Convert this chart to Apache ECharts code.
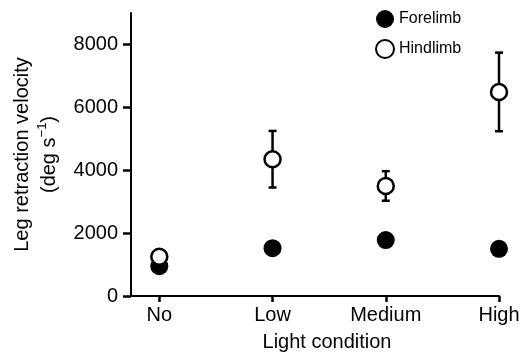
<!DOCTYPE html>
<html>
<head>
<meta charset="utf-8">
<script src="https://cdn.jsdelivr.net/npm/echarts@6/dist/echarts.min.js"></script>
<style>
  html, body { margin: 0; padding: 0; background: #fff; }
  #chart { width: 527px; height: 357px; }
</style>
</head>
<body>
<div id="chart"></div>
<script>
  // light conditions on x, velocities in deg/s
  const categories = ['No', 'Low', 'Medium', 'High'];
  const forelimb = [950, 1520, 1780, 1500];
  const forelimbErr = [80, 80, 80, 80];
  const hindlimb = [1250, 4350, 3500, 6490];
  const hindlimbErr = [100, 900, 470, 1250];
  const yTicks = [0, 2000, 4000, 6000, 8000];
  const xTicks = [0, 1, 2, 3];

  const font = 'Liberation Sans, Arial, Helvetica, sans-serif';

  function errorSeries(vals, errs) {
    return {
      type: 'custom',
      silent: true,
      z: 1,
      data: vals.map((v, i) => [i, v - errs[i], v + errs[i]]),
      renderItem: function (params, api) {
        const lo = api.coord([api.value(0), api.value(1)]);
        const hi = api.coord([api.value(0), api.value(2)]);
        const cap = 4;
        const st = { stroke: '#000', lineWidth: 2.5 };
        return {
          type: 'group',
          children: [
            { type: 'line', shape: { x1: lo[0], y1: lo[1], x2: hi[0], y2: hi[1] }, style: st },
            { type: 'line', shape: { x1: lo[0] - cap, y1: lo[1], x2: lo[0] + cap, y2: lo[1] }, style: st },
            { type: 'line', shape: { x1: hi[0] - cap, y1: hi[1], x2: hi[0] + cap, y2: hi[1] }, style: st }
          ]
        };
      }
    };
  }

  const chart = echarts.init(document.getElementById('chart'));
  chart.setOption({
    animation: false,
    textStyle: { fontFamily: font, color: '#000' },
    grid: { left: 131, right: 28, top: 13, bottom: 61, outerBoundsMode: 'none' },
    legend: {
      orient: 'vertical',
      left: 370,
      top: 5,
      itemWidth: 18,
      itemHeight: 18,
      itemGap: 11,
      icon: 'circle',
      data: ['Forelimb', 'Hindlimb'],
      textStyle: { fontSize: 16, color: '#000', fontFamily: font }
    },
    xAxis: {
      type: 'value',
      min: -0.25,
      max: 3,
      name: 'Light condition',
      nameLocation: 'middle',
      nameGap: 36,
      nameTextStyle: { fontSize: 20, color: '#000', padding: [0, 0, 0, 24] },
      splitLine: { show: false },
      axisLine: { onZero: false, lineStyle: { color: '#000', width: 2 } },
      axisTick: { show: true, customValues: xTicks, length: 6, lineStyle: { color: '#000', width: 2.5 } },
      axisLabel: {
        customValues: xTicks,
        fontSize: 20,
        color: '#000',
        margin: 9,
        formatter: v => categories[Math.round(v)]
      }
    },
    yAxis: {
      type: 'value',
      min: 0,
      max: 9000,
      name: 'Leg retraction velocity\n(deg s{sup|−1})',
      nameLocation: 'middle',
      nameGap: 67,
      nameTextStyle: {
        fontSize: 20,
        color: '#000',
        lineHeight: 27,
        rich: { sup: { fontSize: 13, verticalAlign: 'top', padding: [0, 0, 10, 0], color: '#000' } }
      },
      splitLine: { show: false },
      axisLine: { show: true, onZero: false, lineStyle: { color: '#000', width: 2 } },
      axisTick: { show: true, customValues: yTicks, length: 8, lineStyle: { color: '#000', width: 2.5 } },
      axisLabel: { customValues: yTicks, fontSize: 20, color: '#000', margin: 13, formatter: v => String(v) }
    },
    series: [
      errorSeries(forelimb, forelimbErr),
      errorSeries(hindlimb, hindlimbErr),
      {
        name: 'Forelimb',
        type: 'scatter',
        z: 2,
        symbol: 'circle',
        symbolSize: 18,
        itemStyle: { color: '#000', opacity: 1 },
        data: forelimb.map((v, i) => [i, v])
      },
      {
        name: 'Hindlimb',
        type: 'scatter',
        z: 3,
        symbol: 'circle',
        symbolSize: 16,
        itemStyle: { color: '#fff', borderColor: '#000', borderWidth: 2.5, opacity: 1 },
        data: hindlimb.map((v, i) => [i, v])
      }
    ]
  });
</script>
</body>
</html>
